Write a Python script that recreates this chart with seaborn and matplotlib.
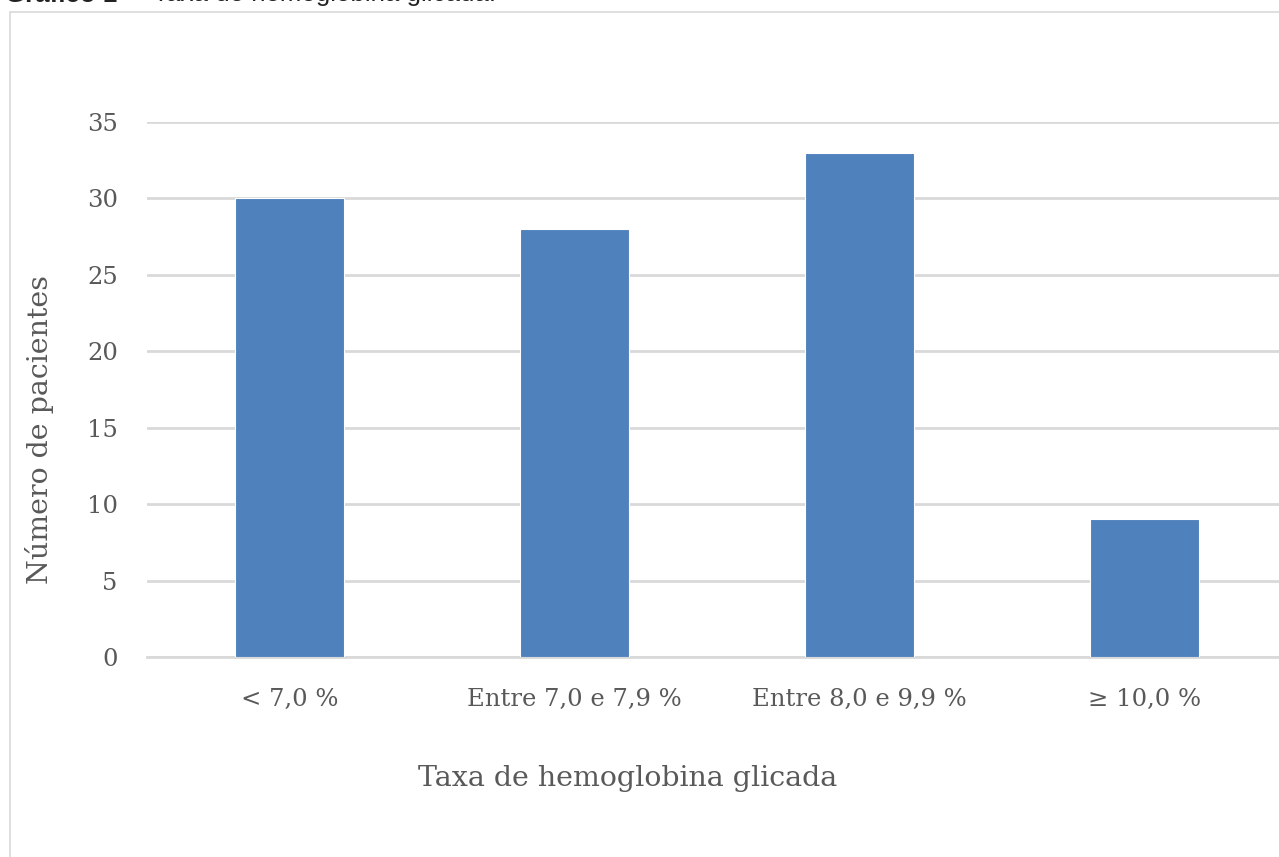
import matplotlib
matplotlib.use("Agg")
import matplotlib.pyplot as plt
import seaborn as sns
import pandas as pd
from matplotlib.patches import Rectangle

# Chart data
categories = ["< 7,0 %", "Entre 7,0 e 7,9 %", "Entre 8,0 e 9,9 %", "≥ 10,0 %"]
patients = [30, 28, 33, 9]
y_ticks = [0, 5, 10, 15, 20, 25, 30, 35]

df = pd.DataFrame({"faixa": categories, "pacientes": patients})

sns.set_style("white")
plt.rcParams["font.family"] = ["DejaVu Serif", "Liberation Serif"]

W, H = 1279, 857
fig = plt.figure(figsize=(W / 100, H / 100), dpi=100)

# outer chart frame (Excel-like chart area border)
fig.patches.append(Rectangle((10 / W, -0.05), 1.2, 1 - 12 / H + 0.05,
                             transform=fig.transFigure, fill=False,
                             edgecolor="#d9d9d9", linewidth=1.2))

ax = fig.add_axes([147 / W, 1 - 657 / H, (1287 - 147) / W, (657 - 122) / H])
sns.barplot(data=df, x="faixa", y="pacientes", color="#4f81bd", width=0.385,
            saturation=1, edgecolor="white", linewidth=0.8, ax=ax, zorder=3)

ax.set_ylim(0, 35)
ax.set_xlim(-0.5, 3.5)
ax.set_yticks(y_ticks)
ax.yaxis.grid(True, color="#d9d9d9", linewidth=2)
ax.set_axisbelow(True)
for s in ["top", "right", "left"]:
    ax.spines[s].set_visible(False)
ax.spines["bottom"].set_color("#d9d9d9")
ax.spines["bottom"].set_linewidth(2)

ax.set_xticks([-0.5, 0.5, 1.5, 2.5, 3.5], minor=True)
ax.tick_params(axis="x", which="minor", length=8, width=1.5, color="#d9d9d9")
ax.tick_params(axis="x", which="major", length=0, pad=22, labelsize=17.5, labelcolor="#595959")
ax.tick_params(axis="y", length=0, pad=21, labelsize=17.5, labelcolor="#595959")

ax.set_xlabel("")
ax.set_ylabel("")
fig.text(40 / W, 1 - 430 / H, "Número de pacientes", rotation=90, ha="center",
         va="center", fontsize=20.5, color="#595959")
fig.text(628 / W, 1 - 778 / H, "Taxa de hemoglobina glicada", ha="center",
         va="center", fontsize=20.5, color="#595959")

# caption cut off at the top of the crop
fig.text(5 / W, 1 - 1.5 / H, "Gráfico 1 –", ha="left", va="baseline",
         fontsize=18.6, fontweight="bold", color="#222222",
         family=["Liberation Sans", "DejaVu Sans"])
fig.text(153 / W, 1 - 1.5 / H, "Taxa de hemoglobina glicada.", ha="left",
         va="baseline", fontsize=18.6, color="#222222",
         family=["Liberation Sans", "DejaVu Sans"])

fig.savefig("out.png", dpi=100)
